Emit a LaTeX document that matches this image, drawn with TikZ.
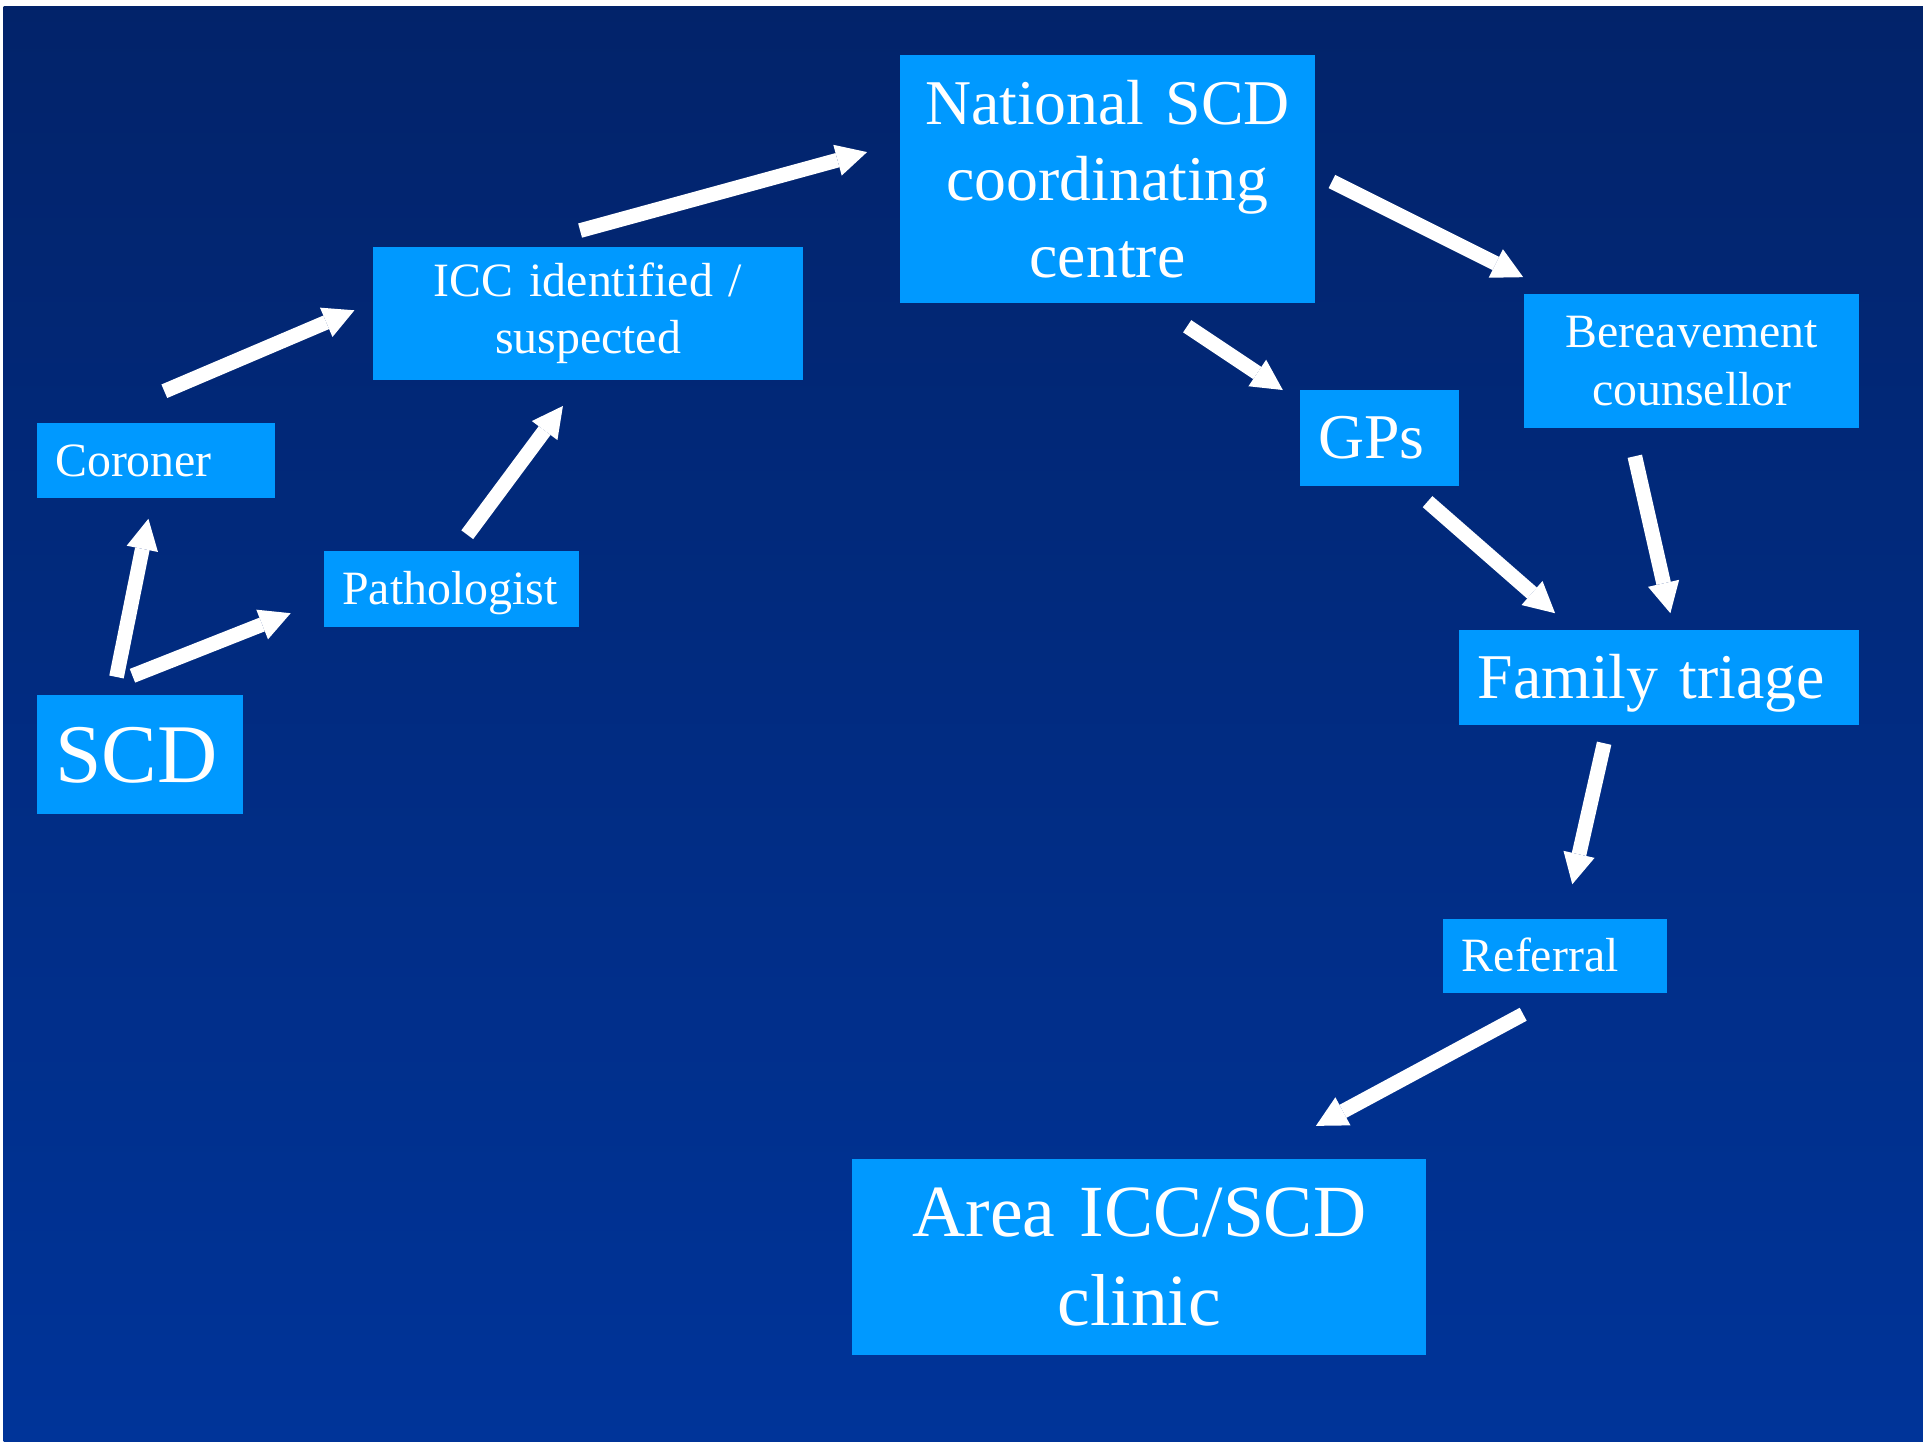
\documentclass[tikz,border=0pt]{standalone}
\usepackage{fontspec}
\setmainfont{Liberation Serif}
\usetikzlibrary{arrows.meta}

\definecolor{bgtop}{RGB}{2,35,106}
\definecolor{bgbot}{RGB}{0,52,153}
\definecolor{boxblue}{RGB}{0,153,255}

\newcommand\fssmall{\fontsize{19.5}{23.4}\selectfont}
\newcommand\fsmid{\fontsize{26}{31.2}\selectfont}
\newcommand\fsbig{\fontsize{30}{36}\selectfont}
\newcommand\fshuge{\fontsize{34}{40.8}\selectfont}

\tikzset{
  box/.style={fill=boxblue, text=white, inner xsep=7.5pt, inner ysep=0pt,
              outer sep=0pt},
  lbox/.style={box, align=left, text depth=0pt},
  cbox/.style={box, align=center},
  flow/.style={draw=white, line width=6pt, line cap=butt,
               -{Triangle[length=12.5pt, width=13pt, line width=0pt]}}
}

\begin{document}
\begin{tikzpicture}[x=0.5pt, y=-0.5pt]
  \useasboundingbox (0,0) rectangle (1568,1175);
  \fill[white] (0,0) rectangle (1568,1175);
  \shade[top color=bgtop, bottom color=bgbot] (3,5) rectangle (1568,1175);

  % boxes
  \node[lbox, font=\fshuge, text width=69pt, text height=22.5pt, minimum height=48.5pt]
    (scd) at (114,615.5) {SCD};
  \node[lbox, font=\fssmall, text width=82pt, text height=12.9pt, minimum height=30.5pt]
    (coroner) at (127,375.5) {Coroner};
  \node[lbox, font=\fssmall, text width=89pt, text height=12.9pt, minimum height=31pt]
    (path) at (368,480) {Pathologist};
  \node[cbox, font=\fssmall, text width=160.5pt, minimum height=54.5pt]
    (icc) at (479.5,255.5) {ICC identified /\\suspected};
  \node[cbox, font=\fsmid, text width=154pt, minimum height=101pt]
    (nat) at (903,146) {National SCD\\coordinating\\centre};
  \node[lbox, font=\fsmid, text width=50pt, text height=17.2pt, minimum height=39pt]
    (gps) at (1125,357) {GPs};
  \node[cbox, font=\fssmall, text width=121.5pt, minimum height=54.5pt]
    (ber) at (1379.5,294.5) {Bereavement\\counsellor};
  \node[lbox, font=\fsmid, text width=148pt, text height=17.2pt, minimum height=38.5pt]
    (fam) at (1353,552.5) {Family triage};
  \node[lbox, font=\fssmall, text width=76pt, text height=12.9pt, minimum height=30.5pt]
    (ref) at (1268,779.5) {Referral};
  \node[cbox, font=\fsbig, text width=219pt, minimum height=80pt]
    (area) at (929,1025) {Area ICC/SCD\\clinic};

  % arrows
  \draw[flow] ([shift={(65,-15)}]scd.north west) -- ([shift={(91,17)}]coroner.south west);
  \draw[flow] ([shift={(78,-16)}]scd.north west) -- ([shift={(-27,20)}]path.west);
  \draw[flow] ([shift={(104,-26)}]coroner.north west) -- ([shift={(-15,-2.5)}]icc.west);
  \draw[flow] ([shift={(117,-13)}]path.north west) -- ([shift={(155,21)}]icc.south west);
  \draw[flow] ([shift={(169,-13)}]icc.north west) -- ([shift={(-27,-22)}]nat.west);
  \draw[flow] ([shift={(234,19)}]nat.south west) -- ([shift={(-14,0)}]gps.north west);
  \draw[flow] ([shift={(14,2)}]nat.east) -- ([shift={(-1,-14)}]ber.north west);
  \draw[flow] ([shift={(104,13)}]gps.south west) -- ([shift={(78,-14)}]fam.north west);
  \draw[flow] ([shift={(90,23)}]ber.south west) -- ([shift={(172,-14)}]fam.north west);
  \draw[flow] ([shift={(118,15)}]fam.south west) -- ([shift={(105,-28)}]ref.north west);
  \draw[flow] ([shift={(65,17)}]ref.south west) -- ([shift={(378,-27)}]area.north west);
\end{tikzpicture}
\end{document}
